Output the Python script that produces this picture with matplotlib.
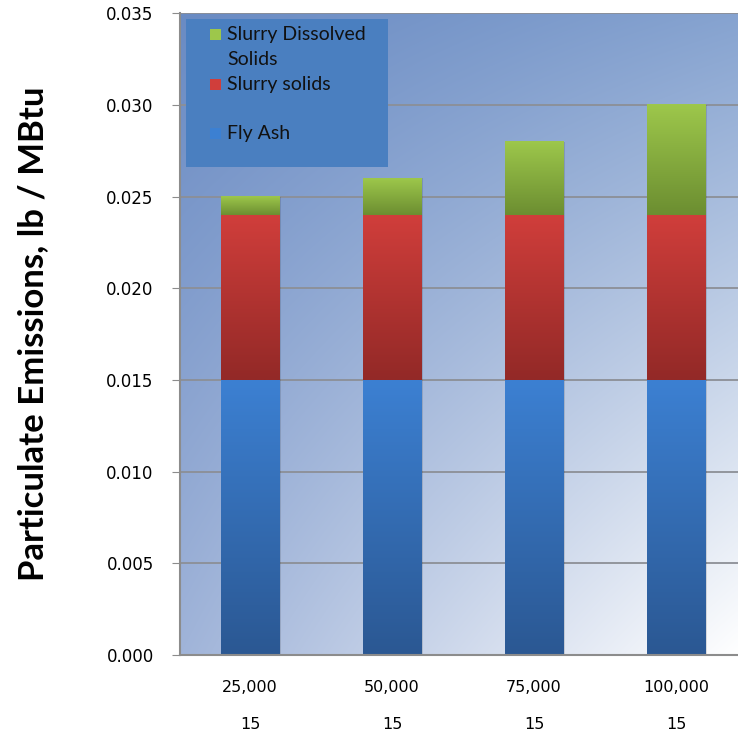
import numpy as np
import matplotlib
matplotlib.use("Agg")
from matplotlib import pyplot as plt
from matplotlib.colors import LinearSegmentedColormap, to_rgb

# feed rates (line 1) and moisture (line 2) for each case
feed_labels = ["25,000", "50,000", "75,000", "100,000"]
second_labels = ["15", "15", "15", "15"]

fly_ash = [0.015, 0.015, 0.015, 0.015]
slurry_solids = [0.009, 0.009, 0.009, 0.009]
dissolved_solids = [0.001, 0.002, 0.004, 0.006]

series_names = ["Fly Ash", "Slurry solids", "Slurry Dissolved\nSolids"]
# (top colour, bottom colour) of each bar segment
shades = [("#3c80d2", "#2b5893"), ("#d03e3b", "#932927"), ("#9dc74b", "#6c8e31")]

fig = plt.figure(figsize=(7.38, 7.38), dpi=100)
ax = fig.add_axes([0.244, 0.1125, 0.756, 0.8695])

# plot area background: dark blue top-left fading to white bottom-right
tl, tr = np.array(to_rgb("#6a8bc3")), np.array(to_rgb("#86a3d0"))
bl, br = np.array(to_rgb("#a0b4d9")), np.array(to_rgb("#ffffff"))
gx, gy = np.meshgrid(np.linspace(0, 1, 200), np.linspace(0, 1, 200))
gx, gy = gx[..., None], gy[..., None]
bg = (tl * (1 - gx) * (1 - gy) + tr * gx * (1 - gy)
      + bl * (1 - gx) * gy + br * gx * gy)
ax.imshow(bg, extent=[0, 1, 0, 1], transform=ax.transAxes, aspect="auto",
          zorder=0, interpolation="bilinear")

x = np.arange(len(feed_labels))
width = 0.41
bottoms = np.zeros(len(x))
grad = np.linspace(1, 0, 100).reshape(-1, 1)
for vals, (top, bot) in zip([fly_ash, slurry_solids, dissolved_solids], shades):
    cmap = LinearSegmentedColormap.from_list("seg", [bot, top])
    bars = ax.bar(x, vals, width, bottom=bottoms, color=top, linewidth=0, zorder=2)
    for rect in bars:
        x0, y0 = rect.get_x(), rect.get_y()
        w, h = rect.get_width(), rect.get_height()
        # soft shadow to the right of each bar
        ax.add_patch(plt.Rectangle((x0 + w, y0), 0.012, h, color="#000000",
                                   alpha=0.12, linewidth=0, zorder=1.9))
        ax.imshow(grad, cmap=cmap, extent=[x0, x0 + w, y0, y0 + h],
                  aspect="auto", zorder=2.1, vmin=0, vmax=1)
    bottoms += np.array(vals)

ax.set_xlim(-0.493, 3.437)
ax.set_ylim(0, 0.035)
yticks = np.arange(0, 0.0351, 0.005)
ax.set_yticks(yticks)
ax.set_yticklabels([f"{v:.3f}" for v in yticks], fontsize=12, family="DejaVu Sans")
ax.grid(axis="y", color="#8c8f96", linewidth=1.3, zorder=1)
ax.set_axisbelow(True)
ax.tick_params(axis="y", length=6, color="#8c8c8c", pad=13)
ax.set_xticks(x)
ax.set_xticklabels([f"{a}\n{b}" for a, b in zip(feed_labels, second_labels)],
                   fontsize=11.5, linespacing=2.8)
ax.tick_params(axis="x", length=0, pad=18)
for side in ["top", "right"]:
    ax.spines[side].set_visible(False)
for side in ["left", "bottom"]:
    ax.spines[side].set_color("#8c8c8c")
    ax.spines[side].set_linewidth(1.5)

ax.set_ylabel("Particulate Emissions, lb / MBtu", fontsize=25, fontweight="bold",
              family="Lato")
ax.yaxis.set_label_coords(-0.234, 0.5)

# legend panel, drawn in axes fractions
ax.add_patch(plt.Rectangle((0.0108, 0.760), 0.362, 0.2307, transform=ax.transAxes,
                           facecolor="#4a7fc0", edgecolor="none", zorder=5))
legend_rows = [0.9674, 0.8894, 0.8131]  # green, red, blue marker centres
text_x = 0.0843
for yy, (top, bot), name in zip(legend_rows, shades[::-1], series_names[::-1]):
    ax.add_patch(plt.Rectangle((0.0538, yy - 0.0085), 0.0197, 0.017,
                               transform=ax.transAxes, facecolor=top,
                               edgecolor="none", zorder=6))
    lines = name.split("\n")
    for k, line in enumerate(lines):
        ax.text(text_x, yy - 0.039 * k, line, transform=ax.transAxes,
                fontsize=14, family="Lato", va="center", zorder=7,
                color="#111111")

fig.savefig("out.png", dpi=100)
